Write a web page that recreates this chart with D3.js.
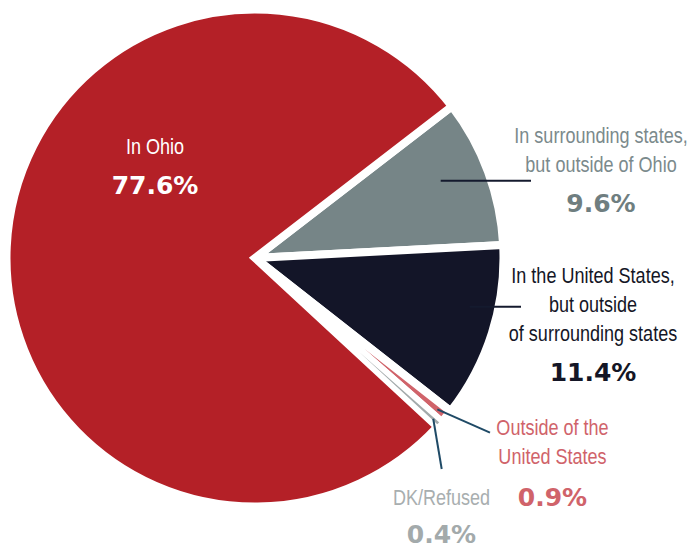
<!DOCTYPE html>
<html>
<head>
<meta charset="utf-8">
<script src="https://cdn.jsdelivr.net/npm/d3@7"></script>
<style>
  html, body { margin: 0; padding: 0; background: #fff; }
  svg { display: block; }
  .lbl { font-family: "Liberation Sans", Arial, sans-serif; font-size: 22px; }
  .pct { font-family: "DejaVu Sans", sans-serif; font-weight: bold; font-size: 25px; }
</style>
</head>
<body>
<svg id="chart" width="690" height="548"></svg>
<script>
// Where respondents live — share of responses
const categories = [
  "In surrounding states, but outside of Ohio",
  "In the United States, but outside of surrounding states",
  "Outside of the United States",
  "DK/Refused",
  "In Ohio"
];
const values = [9.6, 11.4, 0.9, 0.4, 77.6];
const valueLabels = ["9.6%", "11.4%", "0.9%", "0.4%", "77.6%"];
const labelLines = [
  ["In surrounding states,", "but outside of Ohio"],
  ["In the United States,", "but outside", "of surrounding states"],
  ["Outside of the", "United States"],
  ["DK/Refused"],
  ["In Ohio"]
];

// Styling
const sliceColors = ["#768587", "#131528", "#d0636a", "#a3aaab", "#b42027"];
const textColors  = ["#7b8a8c", "#141626", "#d0636a", "#a8aeaf", "#ffffff"];
const pctColors   = ["#6f7e80", "#141626", "#d0636a", "#a3aaab", "#ffffff"];
const leaderColors = ["#141a2e", "#141a2e", "#1f4a66", "#1f4a66", null];

// Layout
const cx = 255, cy = 258, R = 248.5;
const startDeg = 52.4;
const narrow = 0.82; // horizontal squeeze for the condensed label face
const labelLayout = [
  { x: 601, y: 143, lead: { r: 198, to: [531, 180.7], flat: true } },
  { x: 593, y: 283, lead: { r: 225, to: [521, 306.7], flat: true } },
  { x: 552.5, y: 435, lead: { r: 237, to: [490, 432.7] } },
  { x: 441.5, y: 505, lead: { r: 240, to: [441.7, 469] } },
  { x: 155, y: 154 }
];
const lineGap = 29;
const pctGap = [40, 40, 42, 38, 40];

const svg = d3.select("#chart");
const g = svg.append("g").attr("transform", `translate(${cx},${cy})`);

const pie = d3.pie().sort(null).value(d => d)
  .startAngle(startDeg * Math.PI / 180)
  .endAngle(startDeg * Math.PI / 180 + 2 * Math.PI);
const arcs = pie(values);
const arc = d3.arc().innerRadius(0).outerRadius(R);

// Slices with wide white separators
g.selectAll("path.slice")
  .data(arcs)
  .join("path")
  .attr("class", "slice")
  .attr("d", arc)
  .attr("fill", (d, i) => sliceColors[i])
  .attr("stroke", "#fff")
  .attr("stroke-width", 8)
  .attr("stroke-linejoin", "miter")
  .attr("stroke-miterlimit", 10);

// The thinnest slice is redrawn on top with a finer edge so it stays visible
g.append("path")
  .datum(arcs[3])
  .attr("d", arc)
  .attr("fill", sliceColors[3])
  .attr("stroke", "#fff")
  .attr("stroke-width", 3.5)
  .attr("stroke-linejoin", "miter")
  .attr("stroke-miterlimit", 10);

// Leader lines from slices to their labels
arcs.forEach((d, i) => {
  const lay = labelLayout[i];
  if (!lay.lead) return;
  const mid = (d.startAngle + d.endAngle) / 2;
  let x0 = cx + lay.lead.r * Math.sin(mid);
  let y0 = cy - lay.lead.r * Math.cos(mid);
  if (lay.lead.flat) { y0 = lay.lead.to[1]; }
  svg.append("line")
    .attr("x1", x0).attr("y1", y0)
    .attr("x2", lay.lead.to[0]).attr("y2", lay.lead.to[1])
    .attr("stroke", leaderColors[i])
    .attr("stroke-width", 2);
});

// Labels
arcs.forEach((d, i) => {
  const lay = labelLayout[i];
  const lines = labelLines[i];
  lines.forEach((ln, k) => {
    svg.append("g")
      .attr("transform", `translate(${lay.x},${lay.y + k * lineGap}) scale(${narrow},1)`)
      .append("text")
      .attr("class", "lbl")
      .attr("text-anchor", "middle")
      .attr("fill", textColors[i])
      .text(ln);
  });
  svg.append("text")
    .attr("class", "pct")
    .attr("x", lay.x)
    .attr("y", lay.y + (lines.length - 1) * lineGap + pctGap[i])
    .attr("text-anchor", "middle")
    .attr("fill", pctColors[i])
    .text(valueLabels[i]);
});
</script>
</body>
</html>
